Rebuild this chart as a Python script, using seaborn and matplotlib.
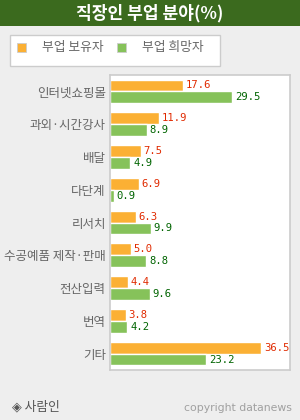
import matplotlib
matplotlib.use("Agg")
import matplotlib.pyplot as plt
from matplotlib.patches import Rectangle
import seaborn as sns
import pandas as pd

categories = ["인터넷쇼핑몰", "과외·시간강사", "배달", "다단계", "리서치",
              "수공예품 제작·판매", "전산입력", "번역", "기타"]
series_names = ["부업 보유자", "부업 희망자"]
have_vals = [17.6, 11.9, 7.5, 6.9, 6.3, 5.0, 4.4, 3.8, 36.5]
want_vals = [29.5, 8.9, 4.9, 0.9, 9.9, 8.8, 9.6, 4.2, 23.2]
title = "직장인 부업 분야(%)"

colors = ["#FBB034", "#86C25A"]
label_colors = ["#E02A00", "#006400"]

df = pd.DataFrame({
    "category": categories * 2,
    "series": [series_names[0]] * len(categories) + [series_names[1]] * len(categories),
    "value": have_vals + want_vals,
})

sns.set_style("white")
plt.rcParams["font.family"] = ["Noto Sans CJK KR", "DejaVu Sans"]

fig = plt.figure(figsize=(3.0, 4.2), dpi=100)
fig.patch.set_facecolor("#EEEEEE")

ax = fig.add_axes([110 / 300, 1 - 370 / 420, 180 / 300, 295 / 420])
sns.barplot(data=df, y="category", x="value", hue="series", order=categories,
            hue_order=series_names, palette=colors, width=0.72, orient="h",
            saturation=1, legend=False, ax=ax)
ax.set_facecolor("white")
ax.set_xlim(0, 43.5)
ax.set_ylim(len(categories) - 0.5, -0.5)
ax.set_xlabel("")
ax.set_ylabel("")
ax.set_xticks([])
ax.tick_params(axis="y", which="major", length=0, labelsize=9.0, labelcolor="#666666", pad=3)
ax.set_yticks([i + 0.5 for i in range(len(categories) - 1)], minor=True)
ax.tick_params(axis="y", which="minor", direction="in", length=5, width=0.8, color="#888888")
for s in ax.spines.values():
    s.set_color("#CCCCCC")
    s.set_linewidth(1.2)
    s.set_visible(True)

for cont, lc in zip(ax.containers, label_colors):
    ax.bar_label(cont, fmt="%.1f", padding=2, color=lc, fontsize=7.6,
                 family="DejaVu Sans Mono")

# title bar
fig.patches.append(Rectangle((0, 1 - 26 / 420), 1, 26 / 420, transform=fig.transFigure,
                             facecolor="#3B6A1E", edgecolor="none", zorder=0))
fig.text(0.5, 1 - 13 / 420, title, ha="center", va="center", color="white",
         fontsize=12.3, fontweight="bold")

# legend box
fig.patches.append(Rectangle((10 / 300, 1 - 66 / 420), 210 / 300, 31 / 420,
                             transform=fig.transFigure, facecolor="white",
                             edgecolor="#CCCCCC", linewidth=1.0, zorder=1))
for xm, xt, c, name in [(17, 42, colors[0], series_names[0]),
                        (117, 142, colors[1], series_names[1])]:
    fig.patches.append(Rectangle((xm / 300, 1 - 52 / 420), 9 / 300, 9 / 420,
                                 transform=fig.transFigure, facecolor=c,
                                 edgecolor="#CCCCCC", linewidth=0.6, zorder=2))
    fig.text(xt / 300, 1 - 48 / 420, name, ha="left", va="center",
             color="#666666", fontsize=9.2)

# footer
fig.text(12 / 300, 1 - 407 / 420, "◈ 사람인", ha="left", va="center",
         color="#555555", fontsize=9.2)
fig.text(292 / 300, 1 - 408 / 420, "copyright datanews", ha="right", va="center",
         color="#A0A0A0", fontsize=7.8, family="DejaVu Sans")

fig.savefig("out.png", dpi=100, facecolor=fig.get_facecolor())
